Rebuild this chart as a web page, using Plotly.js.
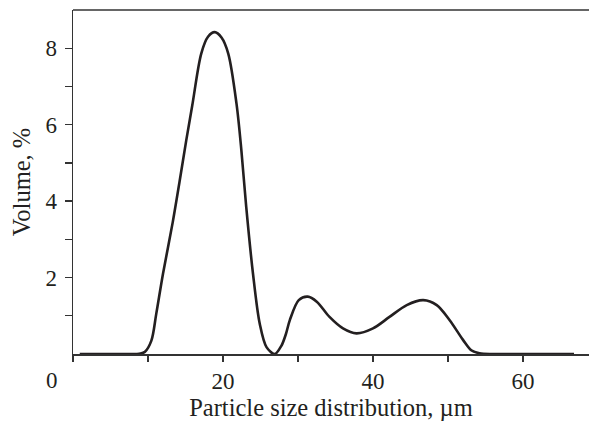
<!DOCTYPE html>
<html>
<head>
<meta charset="utf-8">
<script src="https://cdn.plot.ly/plotly-3.0.1.min.js"></script>
<style>
html,body{margin:0;padding:0;background:#fff;}
#chart{width:589px;height:422px;}
</style>
</head>
<body>
<div id="chart"></div>
<script>
// Particle size (µm) and volume (%)
const sizeUm = [0.9, 3.0, 5.0, 7.0, 8.4, 9.0, 9.6, 10.45, 11.1, 12.0, 13.3, 14.2, 15.1, 15.9, 17.1, 18.0, 18.9, 19.8, 20.7, 21.8, 22.45, 23.1, 24.0, 24.9, 25.8, 26.9, 27.8, 28.4, 28.9, 30.1, 31.3, 32.5, 34.2, 36.0, 37.8, 40.0, 42.2, 44.5, 46.7, 48.5, 50.2, 52.0, 53.1, 54.2, 56.0, 60.0, 64.0, 66.8];
const volumePct = [0, 0, 0, 0, 0, 0.01, 0.06, 0.35, 1.05, 2.10, 3.45, 4.50, 5.59, 6.50, 7.86, 8.30, 8.42, 8.28, 7.86, 6.55, 5.33, 3.84, 2.10, 0.79, 0.18, 0.0, 0.22, 0.53, 0.88, 1.41, 1.50, 1.37, 0.97, 0.67, 0.54, 0.67, 0.97, 1.28, 1.41, 1.28, 0.89, 0.37, 0.10, 0.02, 0, 0, 0, 0];

const xTickVals = [0, 10, 20, 30, 40, 50, 60];
const xTickText = ['', '', '20', '', '40', '', '60'];
const yTickVals = [1, 2, 3, 4, 5, 6, 7, 8];
const yTickText = ['', '2', '', '4', '', '6', '', '8'];

const xTitle = 'Particle size distribution, µm';
const yTitle = 'Volume, %';
const originLabel = '0';

const serif = "'Liberation Serif', 'Times New Roman', serif";
const ink = '#231f20';

const trace = {
  x: sizeUm,
  y: volumePct,
  type: 'scatter',
  mode: 'lines',
  line: {color: ink, width: 2.6, shape: 'spline', smoothing: 0.9},
  hoverinfo: 'skip'
};

const layout = {
  width: 589,
  height: 422,
  margin: {l: 73, r: 0, t: 10, b: 68, pad: 0},
  paper_bgcolor: '#ffffff',
  plot_bgcolor: '#ffffff',
  showlegend: false,
  font: {family: serif, color: ink, size: 23},
  xaxis: {
    range: [0, 68.8],
    tickmode: 'array',
    tickvals: xTickVals,
    ticktext: xTickText,
    ticks: 'outside',
    ticklen: 6,
    tickwidth: 1.4,
    tickcolor: '#333',
    showline: true,
    linecolor: '#333',
    linewidth: 1.5,
    showgrid: false,
    zeroline: false,
    tickfont: {family: serif, size: 23, color: ink},
    ticklabelstandoff: 0,
    title: {text: xTitle, font: {family: serif, size: 24.5, color: ink}, standoff: 4}
  },
  yaxis: {
    range: [0, 9],
    tickmode: 'array',
    tickvals: yTickVals,
    ticktext: yTickText,
    ticks: 'outside',
    ticklen: 7,
    tickwidth: 1.4,
    tickcolor: '#333',
    showline: true,
    linecolor: '#333',
    linewidth: 1.5,
    showgrid: false,
    zeroline: false,
    tickfont: {family: serif, size: 23, color: ink},
    ticklabelstandoff: 3,
    title: {text: yTitle, font: {family: serif, size: 24.5, color: ink}, standoff: 8}
  },
  shapes: [{
    type: 'line', xref: 'paper', yref: 'paper',
    x0: 0, x1: 1, y0: 1, y1: 1,
    line: {color: '#333', width: 1.5}
  }],
  annotations: [{
    text: originLabel,
    xref: 'x', yref: 'paper',
    x: 0, y: 0,
    xanchor: 'center', yanchor: 'top',
    xshift: -21, yshift: -12,
    showarrow: false,
    font: {family: serif, size: 23, color: ink}
  }]
};

Plotly.newPlot('chart', [trace], layout, {staticPlot: true, displayModeBar: false});
</script>
</body>
</html>
